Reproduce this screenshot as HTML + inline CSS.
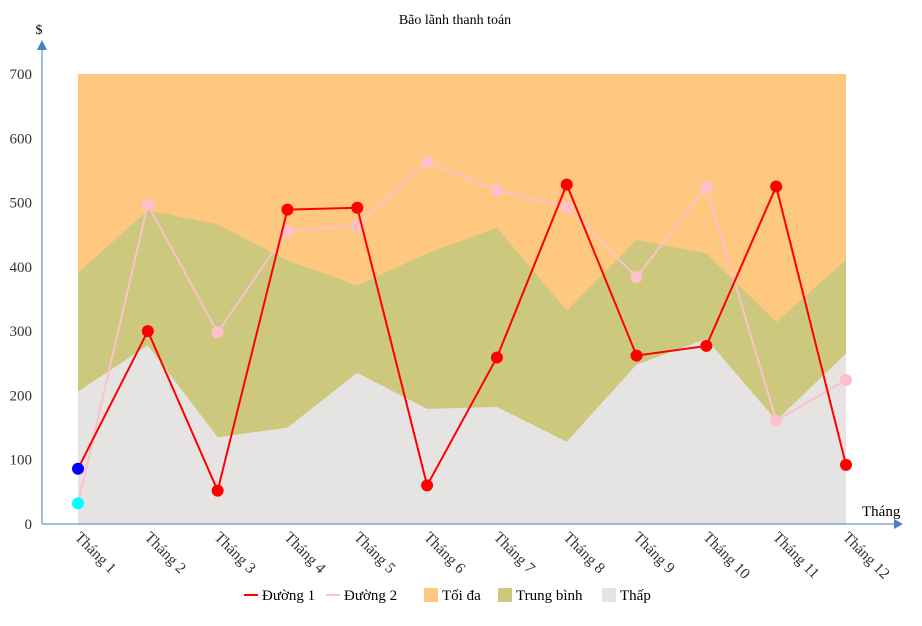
<!DOCTYPE html>
<html><head><meta charset="utf-8"><style>
body{margin:0;background:#fff;}
svg text{font-family:"Liberation Serif",serif;}
</style></head><body>
<svg id="chart" width="922" height="621" xmlns="http://www.w3.org/2000/svg">
<text x="455" y="24" font-size="14" text-anchor="middle" fill="#000">Bão lãnh thanh toán</text>
<g id="areas"></g><g id="axes"></g><g id="lines"></g>
<g id="legend"></g>
</svg>
<script>
const categories=["Tháng 1","Tháng 2","Tháng 3","Tháng 4","Tháng 5","Tháng 6","Tháng 7","Tháng 8","Tháng 9","Tháng 10","Tháng 11","Tháng 12"];
const line1=[86,300,52,489,492,60,259,528,262,277,525,92];
const line2=[32,497,298,456,464,563,519,493,384,524,161,224];
const maxArea=[700,700,700,700,700,700,700,700,700,700,700,700];
const midArea=[391,488,466,410,371,421,461,332,442,421,314,411];
const lowArea=[206,278,135,150,235,179,182,128,248,288,161,265];
const yTicks=[0,100,200,300,400,500,600,700];
const NS="http://www.w3.org/2000/svg";
const x0=78,x1=846,y0=524,yScale=450/700;
function X(i){return x0+i*(x1-x0)/(categories.length-1);}
function Y(v){return y0-v*yScale;}
function mk(tag,attrs,parent){const e=document.createElementNS(NS,tag);for(const k in attrs)e.setAttribute(k,attrs[k]);parent.appendChild(e);return e;}
const areas=document.getElementById('areas'),axes=document.getElementById('axes'),lines=document.getElementById('lines'),legend=document.getElementById('legend');
function area(arr,color,name){let d=`M${X(0)},${y0}`;arr.forEach((v,i)=>d+=` L${X(i)},${Y(v)}`);d+=` L${X(arr.length-1)},${y0}Z`;
const p=mk('path',{d:d,fill:color},areas);

}
area(maxArea,'#FFC880','area-toi-da');
area(midArea,'#CCC97F','area-trung-binh');
area(lowArea,'#E6E3E3','area-thap');
let a=mk('line',{x1:42,y1:y0,x2:896,y2:y0,stroke:'#4A7EC7','stroke-width':1},axes);


mk('path',{d:'M903,524 L894,519 L894,529Z',fill:'#4A7EC7'},axes);
let b=mk('line',{x1:42,y1:y0,x2:42,y2:48,stroke:'#4A7EC7','stroke-width':1},axes);


mk('path',{d:'M42,40 L37,50 L47,50Z',fill:'#4A7EC7'},axes);
yTicks.forEach(v=>{const t=mk('text',{x:32,y:Y(v)+5,'font-size':15,'text-anchor':'end',fill:'#333'},axes);t.textContent=v;

});
categories.forEach((c,i)=>{const t=mk('text',{x:X(i)-4,y:y0+14,'font-size':15.5,fill:'#333',transform:`rotate(45 ${X(i)-4} ${y0+14})`},axes);t.textContent=c;

});
let yt=mk('text',{x:39,y:34,'font-size':14,'text-anchor':'middle'},axes);yt.textContent='$';


let xt=mk('text',{x:862,y:516,'font-size':15},axes);xt.textContent='Tháng';


function series(arr,color,firstColor,name){const pts=arr.map((v,i)=>`${X(i)},${Y(v)}`).join(' ');
const pl=mk('polyline',{points:pts,fill:'none',stroke:color,'stroke-width':2},lines);


arr.forEach((v,i)=>{const c=mk('circle',{cx:X(i),cy:Y(v),r:6,fill:i==0?firstColor:color},lines);

});}
series(line2,'#FFC0CB','#00FFFF','duong-2');
series(line1,'#FF0000','#0000FF','duong-1');
const items=[['Đường 1','#FF0000','line',244],['Đường 2','#FFC0CB','line',326],['Tối đa','#FFC880','box',424],['Trung bình','#CCC97F','box',498],['Thấp','#E6E3E3','box',602]];
items.forEach(it=>{const g=mk('g',{},legend);


if(it[2]=='line')mk('line',{x1:it[3],y1:595,x2:it[3]+14,y2:595,stroke:it[1],'stroke-width':2},g);
else mk('rect',{x:it[3],y:588,width:14,height:14,fill:it[1]},g);
const t=mk('text',{x:it[3]+18,y:600,'font-size':15,fill:'#000'},g);t.textContent=it[0];});
</script>
</body></html>
